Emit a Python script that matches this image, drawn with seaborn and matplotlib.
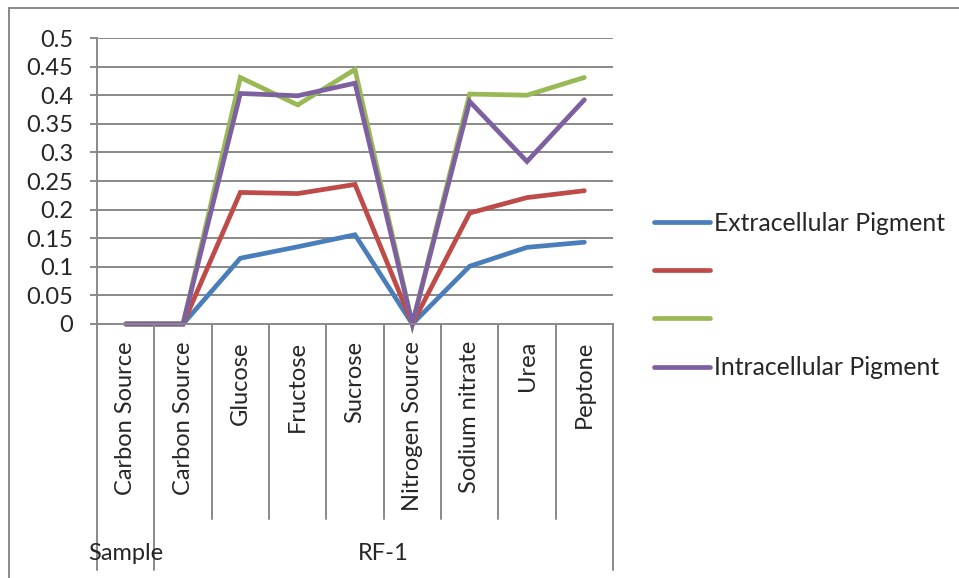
import matplotlib
matplotlib.use('Agg')
import matplotlib.pyplot as plt
import matplotlib.transforms as mtransforms
from matplotlib.lines import Line2D
from matplotlib.patches import Rectangle
import numpy as np
import pandas as pd
import seaborn as sns


######
# Data
######
categories = ['Carbon Source', 'Carbon Source', 'Glucose', 'Fructose', 'Sucrose',
              'Nitrogen Source', 'Sodium nitrate', 'Urea', 'Peptone']
groups = ['Sample', 'RF-1']
group_sizes = [1, 8]

series_names = ['Extracellular Pigment', 'Series 2', 'Series 3', 'Intracellular Pigment']
legend_labels = ['Extracellular Pigment', ' ', ' ', 'Intracellular Pigment']

extracellular = [0, 0, 0.115, 0.135, 0.156, 0, 0.101, 0.134, 0.143]
series_2 = [0, 0, 0.230, 0.228, 0.244, 0, 0.194, 0.221, 0.233]
series_3 = [0, 0, 0.431, 0.383, 0.445, 0, 0.402, 0.400, 0.431]
intracellular = [0, 0, 0.403, 0.399, 0.421, 0, 0.389, 0.284, 0.392]

y_ticks = [0, 0.05, 0.1, 0.15, 0.2, 0.25, 0.3, 0.35, 0.4, 0.45, 0.5]
y_ticklabels = ['0', '0.05', '0.1', '0.15', '0.2', '0.25', '0.3', '0.35', '0.4', '0.45', '0.5']


#######
# Style
#######
sns.set_theme(style='white')
plt.rcParams['font.family'] = ['Lato', 'DejaVu Sans']
FONT_SIZE = 17
LEGEND_SIZE = 17.8
GRID_COLOR = '#898989'
palette = ['#4a7ebb', '#be4b48', '#98b954', '#7d60a0']


##############
# Long-form df
##############
df = pd.DataFrame({'pos': list(range(len(categories))) * 4,
                   'value': extracellular + series_2 + series_3 + intracellular,
                   'series': np.repeat(series_names, len(categories))})


######
# Plot
######
W, H = 959, 578
fig = plt.figure(figsize=(W / 100, H / 100), dpi=100)
ax = fig.add_axes([97 / W, 1 - 324 / H, (613 - 97) / W, (324 - 38) / H])

sns.lineplot(data=df, x='pos', y='value', hue='series', hue_order=series_names,
             palette=palette, linewidth=3.4, ax=ax, legend=False, clip_on=False)
for line in ax.lines:
    line.set_solid_capstyle('round')
    line.set_solid_joinstyle('miter')

ax.set_xlim(-0.5, len(categories) - 0.5)
ax.set_ylim(0, 0.5)
ax.set_yticks(y_ticks)
ax.set_yticklabels(y_ticklabels, fontsize=FONT_SIZE)
ax.yaxis.grid(True, color=GRID_COLOR, linewidth=1.4)
ax.set_axisbelow(True)
ax.tick_params(axis='y', length=5, width=1.4, color=GRID_COLOR, pad=12, left=True)
ax.set_xticks([])
ax.set_xlabel('')
ax.set_ylabel('')
for side in ['top', 'right']:
    ax.spines[side].set_visible(False)
for side in ['left', 'bottom']:
    ax.spines[side].set_color(GRID_COLOR)
    ax.spines[side].set_linewidth(1.4)

# Multi-level category axis
trans = mtransforms.blended_transform_factory(ax.transData, ax.transAxes)
bottom_inner = -(519 - 324) / (324 - 38)
bottom_outer = -(570 - 324) / (324 - 38)
group_edges = list(np.cumsum([0] + group_sizes) - 0.5)
for b in np.arange(len(categories) + 1) - 0.5:
    y_end = bottom_outer if b in group_edges else bottom_inner
    ax.add_line(Line2D([b, b], [0, y_end], transform=trans, color=GRID_COLOR,
                       linewidth=1.4, clip_on=False))
for i, cat in enumerate(categories):
    ax.text(i, -0.06, cat, transform=trans, rotation=90, ha='center', va='top',
            fontsize=FONT_SIZE)
start = 0
for g, size in zip(groups, group_sizes):
    ax.text(start + (size - 1) / 2, -(553 - 324) / (324 - 38), g, transform=trans,
            ha='center', va='center', fontsize=FONT_SIZE)
    start += size

# Legend
handles = [Line2D([], [], color=c, linewidth=3.4, solid_capstyle='round') for c in palette]
fig.legend(handles, legend_labels, loc='center left', bbox_to_anchor=(632 / W, 1 - 295.5 / H),
           frameon=False, fontsize=LEGEND_SIZE, handlelength=2.27, handletextpad=0.16,
           labelspacing=1.02)

# Chart area border
fig.add_artist(Rectangle((9 / W, -0.1), 1.2, 1.1 - 8 / H, transform=fig.transFigure,
                         fill=False, edgecolor=GRID_COLOR, linewidth=1.4))

fig.savefig('out.png', dpi=100)
